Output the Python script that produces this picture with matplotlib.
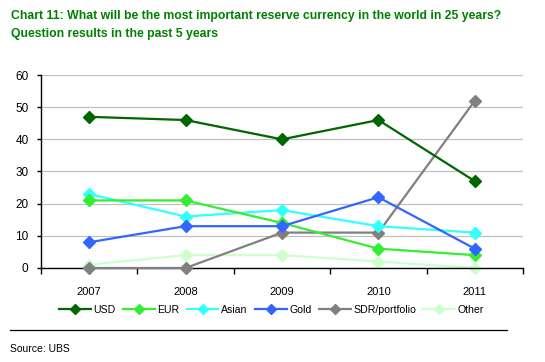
import matplotlib.pyplot as plt
from matplotlib.lines import Line2D

plt.rcParams['font.family'] = ['Liberation Sans', 'DejaVu Sans']

years = ['2007', '2008', '2009', '2010', '2011']
usd = [47, 46, 40, 46, 27]
eur = [21, 21, 14, 6, 4]
asian = [23, 16, 18, 13, 11]
gold = [8, 13, 13, 22, 6]
sdr = [0, 0, 11, 11, 52]
other = [1, 4, 4, 2, 0]

names = ['USD', 'EUR', 'Asian', 'Gold', 'SDR/portfolio', 'Other']
colors = ['#006600', '#33ee33', '#33ffff', '#3366ff', '#808080', '#ccffcc']
series = [usd, eur, asian, gold, sdr, other]

fig = plt.figure(figsize=(5.45, 3.62), dpi=100)
ax = fig.add_axes([0.0752, 0.2597, 0.8844, 0.5331])

x = list(range(len(years)))
for vals, c, n, z in zip(series, colors, names, [6, 5, 4, 7, 3, 2]):
    ax.plot(x, vals, color=c, lw=1.6, marker='D', markersize=6.5,
            label=n, zorder=z, clip_on=False)

ax.set_xlim(-0.5, 4.5)
ax.set_ylim(0, 60)
ax.set_yticks(range(0, 61, 10))
ax.yaxis.grid(True, color='#c0c0c0', lw=0.9)
ax.set_axisbelow(True)
for s in ['top', 'right']:
    ax.spines[s].set_visible(False)
ax.spines['left'].set_linewidth(1.0)
ax.spines['bottom'].set_linewidth(1.0)

ax.set_xticks(x)
ax.set_xticklabels(years)
ax.tick_params(axis='x', length=0, labelsize=8, pad=14)
ax.set_xticks([i - 0.5 for i in range(6)], minor=True)
ax.tick_params(axis='x', which='minor', length=4, width=1.0)
ax.tick_params(axis='y', length=3, width=1.0, labelsize=8.5, pad=6)

ax.legend(loc='upper center', bbox_to_anchor=(0.4784, -0.14), ncol=6,
          frameon=False, fontsize=7.6, handlelength=3.0, handletextpad=0.25,
          columnspacing=0.7, markerscale=0.8)

fig.text(0.02, 0.955, 'Chart 11: What will be the most important reserve currency in the world in 25 years?',
         color='#008000', fontsize=8.8, fontweight='bold', va='center')
fig.text(0.02, 0.905, 'Question results in the past 5 years',
         color='#008000', fontsize=8.8, fontweight='bold', va='center')

fig.add_artist(Line2D([0.018, 0.93], [0.088, 0.088], color='black', lw=0.9))
fig.text(0.018, 0.035, 'Source: UBS', fontsize=7.5, va='center')

fig.savefig('out.png', dpi=100)
